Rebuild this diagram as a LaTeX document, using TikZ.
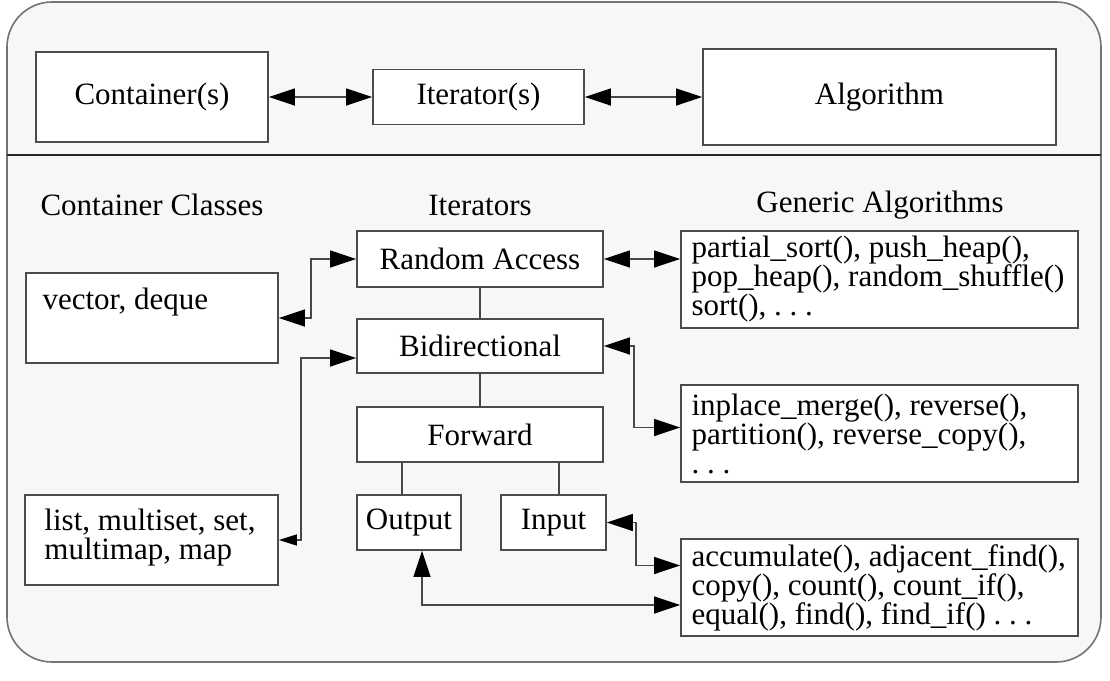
\documentclass[tikz,border=0pt]{standalone}
\usepackage{fontspec}
\setmainfont{Liberation Serif}
\usetikzlibrary{arrows.meta,calc}
\begin{document}
\begin{tikzpicture}[x=0.5pt,y=-0.5pt,
  every node/.style={font=\fontsize{15.5pt}{14.5pt}\selectfont},
  box/.style={draw=black!70,line width=0.9pt,fill=white,inner sep=0pt},
  txt/.style={inner sep=0pt,align=left,anchor=west},
  conn/.style={draw=black!72,line width=0.8pt},
  >={Triangle[length=13pt,width=8.5pt,color=black]}]
\useasboundingbox (0,0) rectangle (1110,681);
% frame
\draw[draw=black!55,line width=0.8pt,fill=black!3,rounded corners=22.5pt] (7,2) rectangle (1101,662);
\draw[black!85,line width=1.1pt] (7,155) -- (1101,155);
% top row
\node[box,minimum width=116pt,minimum height=45pt] (cont) at (152,97) {Container(s)};
\node[box,minimum width=105.5pt,minimum height=27.5pt] (iter) at (478.5,97) {Iterator(s)};
\node[box,minimum width=176.5pt,minimum height=48pt] (algo) at (879.5,97) {Algorithm};
\draw[conn,<->] (cont.east) -- (iter.west);
\draw[conn,<->] (iter.east) -- (algo.west);
% headings
\node (hcc) at (152,205) {Container Classes};
\node (hit) at (480,205) {Iterators};
\node (hga) at (880,205) {Generic Algorithms};
% containers
\node[box,minimum width=126pt,minimum height=45pt] (vec) at (152,318) {};
\node[txt] (vect) at ($(vec.west)+(17,-16)$) {vector, deque};
\node[box,minimum width=126.5pt,minimum height=45pt] (lst) at (151.5,540) {};
\node[txt] (lstt) at ($(lst.west)+(20,-2)$) {list, multiset, set,\\multimap, map};
% iterators
\node[box,minimum width=123pt,minimum height=28pt] (ra) at (480,259) {Random Access};
\node[box,minimum width=123pt,minimum height=27pt] (bi) at (480,346) {Bidirectional};
\node[box,minimum width=123pt,minimum height=27.5pt] (fw) at (480,434.5) {Forward};
\node[box,minimum width=52pt,minimum height=27.5pt] (out) at (409,522.5) {Output};
\node[box,minimum width=52.5pt,minimum height=27.5pt] (inp) at (553.5,522.5) {Input};
\coordinate (o1) at ($(out.north)+(-7,0)$);
\coordinate (i1) at ($(inp.north)+(5.5,0)$);
\draw[conn] (ra.south) -- (bi.north);
\draw[conn] (bi.south) -- (fw.north);
\draw[conn] (o1) -- (o1 |- fw.south);
\draw[conn] (i1) -- (i1 |- fw.south);
% algorithms
\node[box,minimum width=198.5pt,minimum height=48.5pt] (alg1) at (879.5,279.5) {};
\node[txt] (alg1t) at ($(alg1.west)+(11,0)$) {partial\_sort(), push\_heap(),\\pop\_heap(), random\_shuffle()\\sort(), .\ .\ .};
\node[box,minimum width=198.5pt,minimum height=48.5pt] (alg2) at (879.5,433.5) {};
\node[txt] (alg2t) at ($(alg2.west)+(11,0)$) {inplace\_merge(), reverse(),\\partition(), reverse\_copy(),\\.\ .\ .};
\node[box,minimum width=198.5pt,minimum height=48.5pt] (alg3) at (879.5,587.5) {};
\node[txt] (alg3t) at ($(alg3.west)+(11,0)$) {accumulate(), adjacent\_find(),\\copy(), count(), count\_if(),\\equal(), find(), find\_if() .\ .\ .};
% connectors
\draw[conn,<->] (vec.east) -- ++(32,0) |- (ra.west);
\draw[conn,{Triangle[length=9pt,width=5.5pt,color=black]}->] (lst.east) -- ++(22,0) |- ($(bi.west)+(0,12)$);
\draw[conn,<->] (ra.east) -- (ra.east -| alg1.west);
\draw[conn,<->] (bi.east) -- ++(30,0) |- ($(alg2.west)+(0,-6)$);
\draw[conn,<->] (inp.east) -- ++(29,0) |- ($(alg3.west)+(0,-22)$);
\draw[conn,<->] ($(out.south)+(13,0)$) |- ($(alg3.west)+(0,17.5)$);
\end{tikzpicture}
\end{document}
